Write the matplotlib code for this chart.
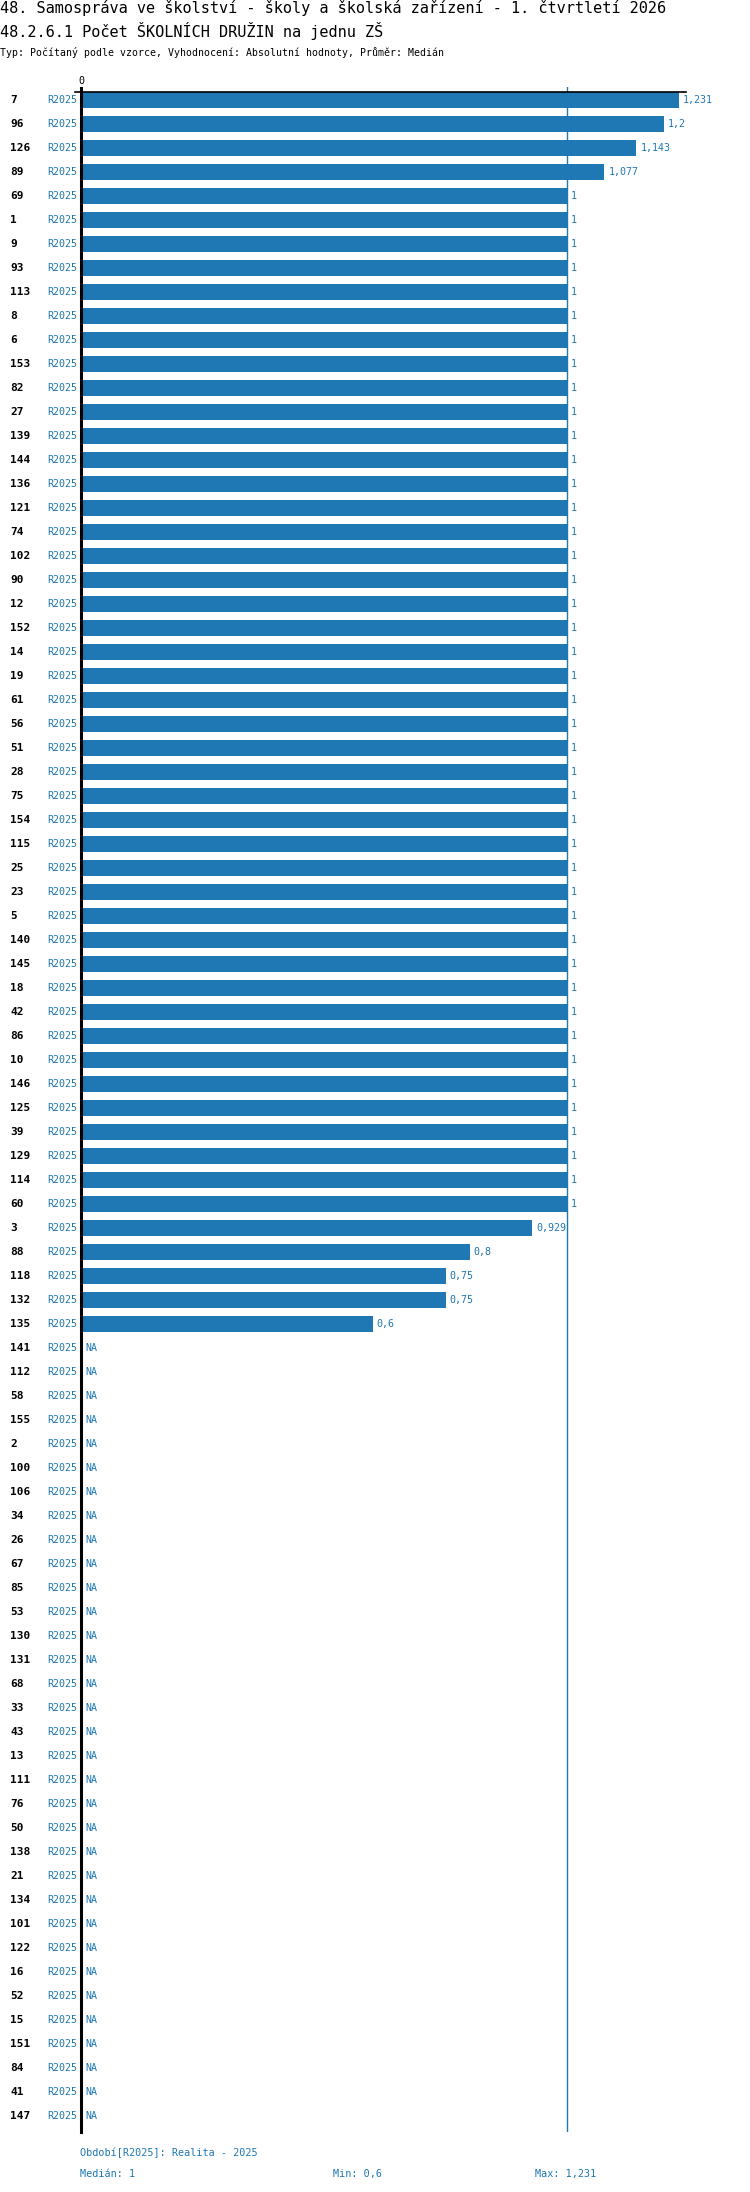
import numpy as np
import matplotlib.pyplot as plt

plt.rcParams['font.family'] = ['DejaVu Sans Mono']

codes = ['7', '96', '126', '89', '69', '1', '9', '93', '113', '8', '6', '153', '82', '27',
         '139', '144', '136', '121', '74', '102', '90', '12', '152', '14', '19', '61', '56',
         '51', '28', '75', '154', '115', '25', '23', '5', '140', '145', '18', '42', '86', '10',
         '146', '125', '39', '129', '114', '60', '3', '88', '118', '132', '135', '141', '112',
         '58', '155', '2', '100', '106', '34', '26', '67', '85', '53', '130', '131', '68', '33',
         '43', '13', '111', '76', '50', '138', '21', '134', '101', '122', '16', '52', '15',
         '151', '84', '41', '147']
values = [1.231, 1.2, 1.143, 1.077] + [1] * 43 + [0.929, 0.8, 0.75, 0.75, 0.6] + [np.nan] * 33
period = 'R2025'
median = 1

title1 = '48. Samospráva ve školství - školy a školská zařízení - 1. čtvrtletí 2026'
title2 = '48.2.6.1 Počet ŠKOLNÍCH DRUŽIN na jednu ZŠ'
subtitle = 'Typ: Počítaný podle vzorce, Vyhodnocení: Absolutní hodnoty, Průměr: Medián'
footer1 = 'Období[R2025]: Realita - 2025'

blue = '#1f77b4'
W, H = 750, 2192


def fmt(v):
    return ('%.3f' % v).rstrip('0').rstrip('.').replace('.', ',')


fig = plt.figure(figsize=(W / 100, H / 100), dpi=100)
px_unit = 486.0
ax_left, ax_right = 81, 81 + px_unit * 1.3
ax_top, ax_bot = 87, 2132
ax = fig.add_axes([ax_left / W, 1 - ax_bot / H, (ax_right - ax_left) / W, (ax_bot - ax_top) / H])
n = len(codes)
ax.set_xlim(0, 1.3)
ax.set_ylim((ax_bot - 100) / 24, (ax_top - 100) / 24)
ax.axis('off')

y = np.arange(n)
vals = np.array(values, dtype=float)
ax.barh(y, np.nan_to_num(vals), height=16 / 24, color=blue, zorder=2)

# axis lines
ax.plot([0, 0], [(88 - 100) / 24, (ax_bot - 100) / 24], color='black', lw=2.2, zorder=3, clip_on=False)
ax.plot([-6 / px_unit, 605 / px_unit], [-8 / 24, -8 / 24], color='black', lw=1.2, zorder=3, clip_on=False)
ax.plot([median, median], [(ax_top - 100) / 24, (ax_bot - 100) / 24], color=blue, lw=1.0, zorder=1)
ax.text(0, -19 / 24, '0', ha='center', va='center', fontsize=7.2)

tr = ax.get_yaxis_transform()
for i, (c, v) in enumerate(zip(codes, vals)):
    ax.text((10 - ax_left) / (ax_right - ax_left), i, c, transform=tr, ha='left', va='center',
            fontsize=8, fontweight='bold', color='black')
    ax.text((77 - ax_left) / (ax_right - ax_left), i, period, transform=tr, ha='right', va='center',
            fontsize=7.2, color=blue)
    if np.isnan(v):
        ax.text(4 / px_unit, i, 'NA', ha='left', va='center', fontsize=7.2, color=blue)
    else:
        ax.text(v + 4 / px_unit, i, fmt(v), ha='left', va='center', fontsize=7.2, color=blue)

fig.text(0, 1 - 8.5 / H, title1, ha='left', va='center', fontsize=11)
fig.text(0, 1 - 31 / H, title2, ha='left', va='center', fontsize=11)
fig.text(0, 1 - 52 / H, subtitle, ha='left', va='center', fontsize=7.1)

valid = vals[~np.isnan(vals)]
fig.text(80 / W, 1 - 2153 / H, footer1, ha='left', va='center', fontsize=7.3, color=blue)
fig.text(80 / W, 1 - 2174 / H, 'Medián: ' + fmt(np.median(valid)), ha='left', va='center', fontsize=7.3, color=blue)
fig.text(333 / W, 1 - 2174 / H, 'Min: ' + fmt(valid.min()), ha='left', va='center', fontsize=7.3, color=blue)
fig.text(535 / W, 1 - 2174 / H, 'Max: ' + fmt(valid.max()), ha='left', va='center', fontsize=7.3, color=blue)

fig.savefig('out.png', dpi=100)
